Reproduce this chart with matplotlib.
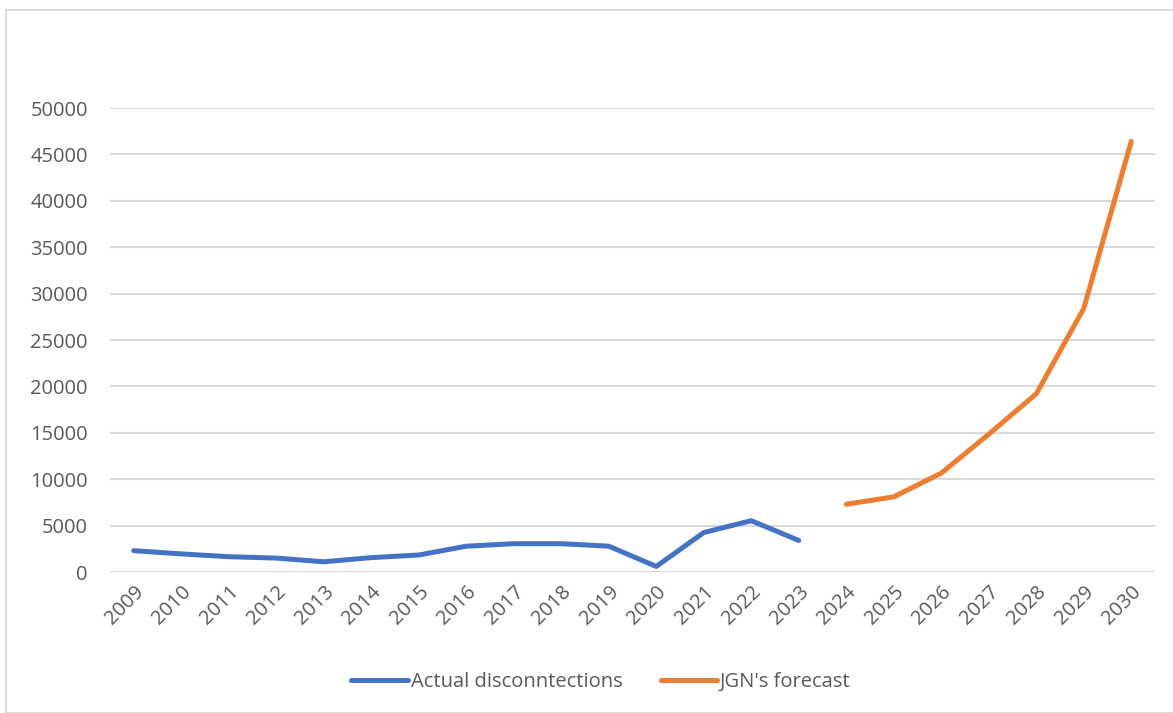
import matplotlib.pyplot as plt
import matplotlib.patches as patches

years = [str(y) for y in range(2009, 2031)]

# actual disconnections 2009-2023
actual = [2300, 1950, 1650, 1500, 1100, 1550, 1830, 2780, 3050, 3050, 2780, 600, 4250, 5530, 3400]

# JGN forecast 2024-2030
forecast = [7300, 8100, 10650, 14850, 19200, 28400, 46400]

yticks = list(range(0, 50001, 5000))

plt.rcParams['font.family'] = ['Open Sans', 'DejaVu Sans']
txt_col = '#595959'
fsize = 14.5

fig = plt.figure(figsize=(11.73, 7.13), dpi=100)
W, H = 1173, 713

# light frame round the chart area
fig.patches.append(patches.Rectangle((6 / W, 0), 1.2, 1 - 10 / H, transform=fig.transFigure,
                                     fill=False, edgecolor='#D9D9D9', linewidth=1.3))

ax = fig.add_axes([110 / W, 1 - 572 / H, (1155 - 110) / W, (572 - 108) / H])

x_all = list(range(len(years)))
ax.plot(x_all[:15], actual, color='#4472C4', linewidth=3.6, solid_capstyle='round',
        solid_joinstyle='round', label='Actual disconntections', clip_on=False)
ax.plot(x_all[15:], forecast, color='#ED7D31', linewidth=3.6, solid_capstyle='round',
        solid_joinstyle='round', label="JGN's forecast", clip_on=False)

ax.set_xlim(-0.5, len(years) - 0.5)
ax.set_ylim(0, 50000)
ax.set_yticks(yticks)
ax.set_yticklabels([str(v) for v in yticks])
ax.set_xticks(x_all)
ax.set_xticklabels(years, rotation=45, ha='right', rotation_mode='anchor')
ax.tick_params(axis='both', length=0, labelsize=fsize, labelcolor=txt_col)
ax.tick_params(axis='y', pad=16)
ax.tick_params(axis='x', pad=7)

ax.grid(axis='y', color='#D9D9D9', linewidth=1.5)
ax.set_axisbelow(True)
for s in ax.spines.values():
    s.set_visible(False)

leg = fig.legend(loc='center', bbox_to_anchor=(601 / W, 1 - 682 / H), ncol=2, frameon=False,
                 fontsize=fsize, handlelength=2.8, handletextpad=0.15, columnspacing=1.9)
for t in leg.get_texts():
    t.set_color(txt_col)

fig.savefig('out.png', dpi=100)
